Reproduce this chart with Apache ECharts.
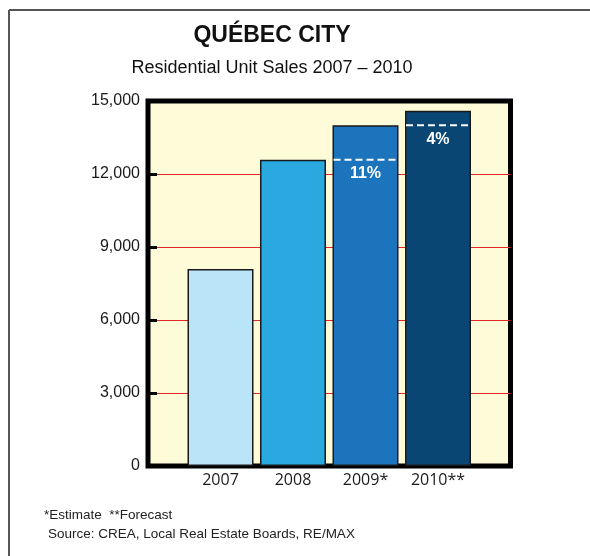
<!DOCTYPE html>
<html>
<head>
<meta charset="utf-8">
<script src="https://cdn.jsdelivr.net/npm/echarts@6/dist/echarts.min.js"></script>
<style>
html, body { margin: 0; padding: 0; background: #fff; }
#chart { width: 590px; height: 556px; }
</style>
</head>
<body>
<div id="chart"></div>
<script>
// data
var years = ['2007', '2008', '2009*', '2010**'];
var sales = [8100, 12590, 14000, 14600];
var changeLabels = ['', '', '11%', '4%'];
var barColors = ['#BAE5F8', '#29A9E0', '#1C75BC', '#0A4673'];
var yTicks = [0, 3000, 6000, 9000, 12000, 15000];

// empty slot each side so the bars sit like the original
var cats = [''].concat(years).concat(['']);
var barData = ['-'];
for (var i = 0; i < sales.length; i++) {
    barData.push({ value: sales[i], itemStyle: { color: barColors[i] } });
}
barData.push('-');

// dashed line at last year's level + % change
var changeData = [];
for (var j = 1; j < years.length; j++) {
    if (changeLabels[j]) changeData.push([years[j], sales[j - 1], j]);
}

var chart = echarts.init(document.getElementById('chart'));
var option = {
    animation: false,
    textStyle: { fontFamily: 'Liberation Sans, Arial, sans-serif' },
    grid: {
        left: 148, right: 79.5, top: 101, bottom: 90,
        show: true,
        backgroundColor: '#FEFBD8',
        borderColor: '#000',
        borderWidth: 5
    },
    xAxis: {
        type: 'category',
        data: cats,
        boundaryGap: false,
        axisLine: { show: false },
        axisTick: { show: false },
        splitLine: { show: false },
        axisLabel: {
            color: '#1a1a1a', fontSize: 16, margin: 6,
            fontFamily: 'Open Sans, sans-serif', interval: 0
        }
    },
    yAxis: {
        type: 'value',
        min: yTicks[0],
        max: yTicks[yTicks.length - 1],
        interval: 3000,
        axisLine: { show: false },
        axisTick: { show: true, inside: true, length: 9, lineStyle: { color: '#000', width: 3 } },
        splitLine: {
            show: true, showMinLine: false, showMaxLine: false,
            lineStyle: { color: '#E3262A', width: 1 }
        },
        axisLabel: {
            color: '#1a1a1a', fontSize: 16, margin: 8,
            formatter: function (v) { return v.toLocaleString('en-US'); }
        }
    },
    series: [
        {
            type: 'bar',
            data: barData,
            barWidth: 66,
            itemStyle: { borderColor: '#1a1a1a', borderWidth: 1.5 }
        },
        {
            type: 'custom',
            data: changeData,
            z: 5,
            renderItem: function (params, api) {
                var p = api.coord([api.value(0), api.value(1)]);
                var label = changeLabels[changeData[params.dataIndex][2]];
                return {
                    type: 'group',
                    children: [
                        {
                            type: 'line',
                            shape: { x1: p[0] - 32, y1: p[1], x2: p[0] + 34, y2: p[1] },
                            style: { stroke: '#fff', lineWidth: 2, lineDash: [7, 4] }
                        },
                        {
                            type: 'text',
                            x: p[0], y: p[1] + 14,
                            style: {
                                text: label, fill: '#fff', fontSize: 16, fontWeight: 'bold',
                                fontFamily: 'Liberation Sans, Arial, sans-serif',
                                align: 'center', verticalAlign: 'middle'
                            }
                        }
                    ]
                };
            }
        }
    ],
    graphic: [
        { type: 'line', shape: { x1: 9, y1: 10, x2: 590, y2: 10 }, style: { stroke: '#555', lineWidth: 2 } },
        { type: 'line', shape: { x1: 9, y1: 10, x2: 9, y2: 556 }, style: { stroke: '#555', lineWidth: 2 } },
        {
            type: 'text', x: 272, y: 36,
            style: {
                text: 'QUÉBEC CITY', fontSize: 23, fontWeight: 'bold', fill: '#111',
                fontFamily: 'Liberation Sans, Arial, sans-serif', align: 'center', verticalAlign: 'middle'
            }
        },
        {
            type: 'text', x: 272, y: 68,
            style: {
                text: 'Residential Unit Sales 2007 – 2010', fontSize: 18, fill: '#111',
                fontFamily: 'Liberation Sans, Arial, sans-serif', align: 'center', verticalAlign: 'middle'
            }
        },
        {
            type: 'text', x: 44, y: 515,
            style: {
                text: '*Estimate  **Forecast', fontSize: 13.5, fill: '#222',
                fontFamily: 'Liberation Sans, Arial, sans-serif', verticalAlign: 'middle'
            }
        },
        {
            type: 'text', x: 48, y: 534,
            style: {
                text: 'Source: CREA, Local Real Estate Boards, RE/MAX', fontSize: 13.5, fill: '#222',
                fontFamily: 'Liberation Sans, Arial, sans-serif', verticalAlign: 'middle'
            }
        }
    ]
};
chart.setOption(option);
</script>
</body>
</html>
